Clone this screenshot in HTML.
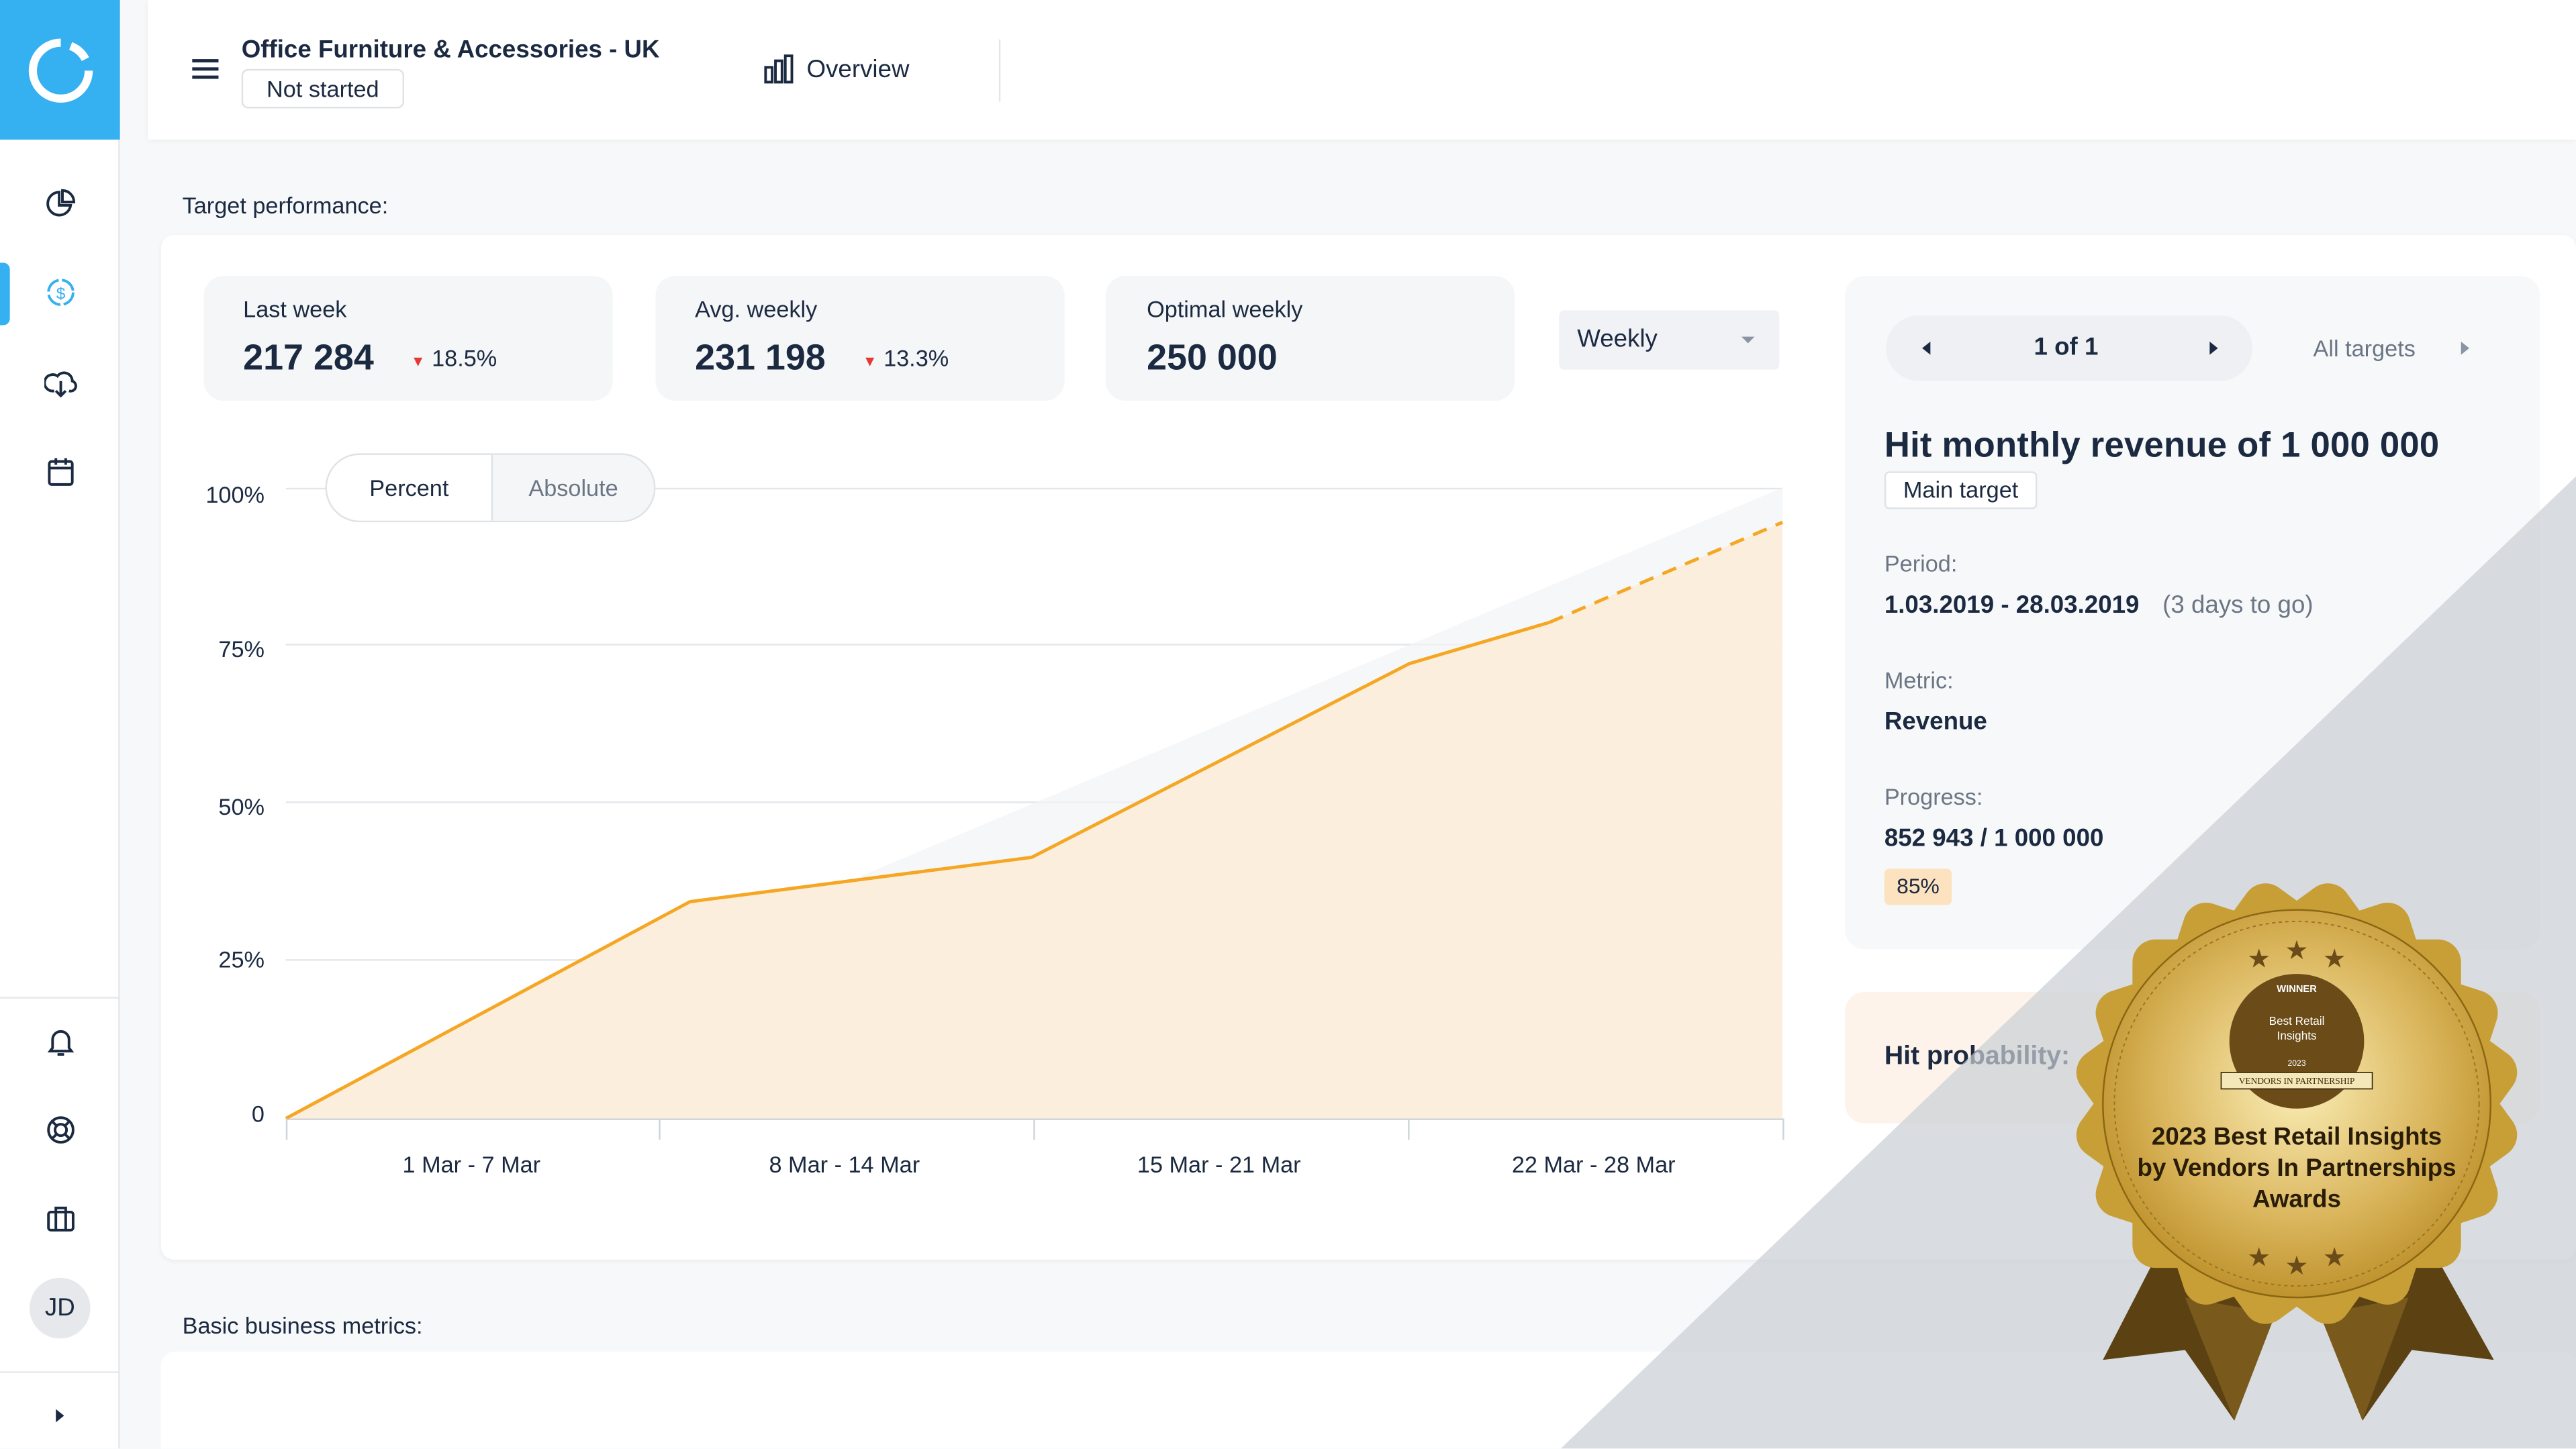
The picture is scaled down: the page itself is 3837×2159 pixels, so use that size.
<!DOCTYPE html>
<html><head><meta charset="utf-8"><style>
*{margin:0;padding:0;box-sizing:border-box}
html,body{width:3837px;height:2159px;overflow:hidden;background:#f7f8fa}
#s{position:absolute;left:0;top:0;width:1568px;height:882px;overflow:hidden;transform:scale(2.4471);transform-origin:0 0;font-family:"Liberation Sans",sans-serif;color:#1b2a41;background:#f7f8fa}
.a{position:absolute}
.card{position:absolute;background:#f5f6f8;border-radius:12px}
.lbl{font-size:14px;color:#1b2a41}
.big{font-size:22px;font-weight:bold}
.pct{font-size:14px}
.gl{position:absolute;left:174px;width:911px;height:1px;background:#e3e6ea}
.yl{position:absolute;width:40px;text-align:right;left:121px;font-size:14px}
.xl{position:absolute;font-size:14px;width:160px;text-align:center;top:701px}
.tk{position:absolute;top:681px;width:1px;height:13px;background:#cfd4da}
.ic{position:absolute;left:27px;width:20px;height:20px}
</style></head><body><div id="s">
<div class="a" style="left:0;top:0;width:73px;height:882px;background:#fff;border-right:1px solid #e6e8eb"></div>
<div class="a" style="left:0;top:0;width:73px;height:85px;background:#35b0f0"></div>
<svg class="a" style="left:16px;top:22px" width="42" height="42" viewBox="0 0 42 42"><path d="M21 4 A17 17 0 1 0 38 21" fill="none" stroke="#fff" stroke-width="5"/><path d="M27 6 A17 17 0 0 1 36 14" fill="none" stroke="#fff" stroke-width="5"/></svg>
<div class="a" style="left:0;top:160px;width:6px;height:38px;background:#35b0f0;border-radius:0 4px 4px 0"></div>
<svg class="ic" style="top:114px" viewBox="0 0 20 20"><path d="M9 3a7 7 0 1 0 7 8H9z" fill="none" stroke="#1b2a41" stroke-width="1.6"/><path d="M11 2v7h7a7 7 0 0 0-7-7z" fill="none" stroke="#1b2a41" stroke-width="1.6"/></svg>
<svg class="ic" style="top:168px" viewBox="0 0 20 20"><circle cx="10" cy="10" r="7.5" fill="none" stroke="#35b0f0" stroke-width="1.6" stroke-dasharray="10 2"/><text x="10" y="14" font-size="10" text-anchor="middle" fill="#35b0f0" font-family="Liberation Sans">$</text></svg>
<svg class="ic" style="top:223px" viewBox="0 0 20 20"><path d="M6 15a5 5 0 1 1 2-9 5 5 0 0 1 9 3 3 3 0 0 1-2 6" fill="none" stroke="#1b2a41" stroke-width="1.6"/><path d="M10 9v9M7 15l3 3 3-3" fill="none" stroke="#1b2a41" stroke-width="1.6"/></svg>
<svg class="ic" style="top:277px" viewBox="0 0 20 20"><rect x="3" y="4" width="14" height="14" rx="1.5" fill="none" stroke="#1b2a41" stroke-width="1.6"/><path d="M3 8h14M7 2v4M13 2v4" stroke="#1b2a41" stroke-width="1.6"/></svg>
<div class="a" style="left:0;top:607px;width:73px;height:1px;background:#e6e8eb"></div>
<svg class="ic" style="top:624px" viewBox="0 0 20 20"><path d="M5 14V9a5 5 0 0 1 10 0v5l1.5 2h-13zM8 18h4" fill="none" stroke="#1b2a41" stroke-width="1.6"/></svg>
<svg class="ic" style="top:678px" viewBox="0 0 20 20"><circle cx="10" cy="10" r="7.5" fill="none" stroke="#1b2a41" stroke-width="1.6"/><circle cx="10" cy="10" r="3.5" fill="none" stroke="#1b2a41" stroke-width="1.6"/><path d="M5 5l3 3M15 5l-3 3M5 15l3-3M15 15l-3-3" stroke="#1b2a41" stroke-width="1.6"/></svg>
<svg class="ic" style="top:732px" viewBox="0 0 20 20"><rect x="2.5" y="6" width="15" height="11" rx="1.5" fill="none" stroke="#1b2a41" stroke-width="1.6"/><path d="M7 6V3.5h6V6M7 6v11M13 6v11" fill="none" stroke="#1b2a41" stroke-width="1.6"/></svg>
<div class="a" style="left:18px;top:778px;width:37px;height:37px;border-radius:50%;background:#e6e8eb;font-size:15px;text-align:center;line-height:37px">JD</div>
<div class="a" style="left:0;top:835px;width:73px;height:1px;background:#e6e8eb"></div>
<div class="a" style="left:34px;top:858px;width:0;height:0;border-top:4px solid transparent;border-bottom:4px solid transparent;border-left:5px solid #1b2a41"></div>
<div class="a" style="left:90px;top:0;width:1478px;height:85px;background:#fff;box-shadow:0 1px 3px rgba(0,0,0,.05)"></div>
<div class="a" style="left:117px;top:36px;width:16px;height:2px;background:#1b2a41;box-shadow:0 5px 0 #1b2a41,0 10px 0 #1b2a41"></div>
<div class="a" style="left:147px;top:22px;font-size:15px;font-weight:bold">Office Furniture &amp; Accessories - UK</div>
<div class="a" style="left:147px;top:42px;width:99px;height:24px;border:1px solid #dfe2e6;border-radius:4px;font-size:14px;text-align:center;line-height:22px">Not started</div>
<svg class="a" style="left:465px;top:33px" width="20" height="18" viewBox="0 0 20 18"><path d="M1 8h4v9H1zM7 4h4v13H7zM13 1h4v16h-4z" fill="none" stroke="#1b2a41" stroke-width="1.6"/></svg>
<div class="a" style="left:491px;top:34px;font-size:15px">Overview</div>
<div class="a" style="left:608px;top:24px;width:1px;height:38px;background:#e3e6ea"></div>
<div class="a lbl" style="left:111px;top:117px">Target performance:</div>
<div class="a" style="left:98px;top:143px;width:1470px;height:624px;background:#fff;border-radius:8px;box-shadow:0 1px 3px rgba(0,0,0,.05)"></div>
<div class="card" style="left:124px;top:168px;width:249px;height:76px"></div>
<div class="a lbl" style="left:148px;top:180px">Last week</div>
<div class="a big" style="left:148px;top:205px">217 284</div>
<div class="a pct" style="left:250px;top:210px"><span style="color:#e53935;font-size:9px">▼</span> 18.5%</div>
<div class="card" style="left:399px;top:168px;width:249px;height:76px"></div>
<div class="a lbl" style="left:423px;top:180px">Avg. weekly</div>
<div class="a big" style="left:423px;top:205px">231 198</div>
<div class="a pct" style="left:525px;top:210px"><span style="color:#e53935;font-size:9px">▼</span> 13.3%</div>
<div class="card" style="left:673px;top:168px;width:249px;height:76px"></div>
<div class="a lbl" style="left:698px;top:180px">Optimal weekly</div>
<div class="a big" style="left:698px;top:205px">250 000</div>
<div class="a" style="left:949px;top:189px;width:134px;height:36px;background:#f0f2f5;border-radius:3px;font-size:15px;line-height:36px;padding-left:11px">Weekly</div>
<div class="a" style="left:1060px;top:205px;border-left:4px solid transparent;border-right:4px solid transparent;border-top:4px solid #8a94a3"></div>
<div class="gl" style="top:297px"></div><div class="gl" style="top:392px"></div><div class="gl" style="top:488px"></div><div class="gl" style="top:584px"></div><div class="gl" style="top:681px;background:#cfd4da"></div>
<div class="yl" style="top:293px">100%</div><div class="yl" style="top:387px">75%</div><div class="yl" style="top:483px">50%</div><div class="yl" style="top:576px">25%</div><div class="yl" style="top:670px">0</div>
<svg class="a" style="left:0;top:0" width="1568" height="882">
<polygon points="174,681 1085,297 1085,681" fill="#f2f3f5" opacity=".7"/>
<polygon points="174,681 420,549 628,522 858,404 943,379 1085,318 1085,681" fill="#fbeedd"/>
<polyline points="174,681 420,549 628,522 858,404 943,379" fill="none" stroke="#f5a623" stroke-width="2"/>
<line x1="943" y1="379" x2="1085" y2="318" stroke="#f5a623" stroke-width="2" stroke-dasharray="9 6"/>
</svg>
<div class="tk" style="left:174px"></div><div class="tk" style="left:401px"></div><div class="tk" style="left:629px"></div><div class="tk" style="left:857px"></div><div class="tk" style="left:1085px"></div>
<div class="xl" style="left:207px">1 Mar - 7 Mar</div><div class="xl" style="left:434px">8 Mar - 14 Mar</div><div class="xl" style="left:662px">15 Mar - 21 Mar</div><div class="xl" style="left:890px">22 Mar - 28 Mar</div>
<div class="a" style="left:198px;top:276px;width:201px;height:42px;border:1px solid #dfe2e6;border-radius:21px;background:#fff;overflow:hidden">
<div class="a" style="left:100px;top:0;width:100px;height:40px;background:#f5f6f8;border-left:1px solid #dfe2e6"></div>
<div class="a" style="left:0;top:12px;width:100px;text-align:center;font-size:14px">Percent</div>
<div class="a" style="left:100px;top:12px;width:100px;text-align:center;font-size:14px;color:#6b7685">Absolute</div></div>
<div class="card" style="left:1123px;top:168px;width:423px;height:410px;background:#f7f8fa"></div>
<div class="a" style="left:1148px;top:192px;width:223px;height:40px;border-radius:20px;background:#eef0f3"></div>
<div class="a" style="left:1170px;top:208px;border-top:4px solid transparent;border-bottom:4px solid transparent;border-right:5px solid #1b2a41"></div>
<div class="a" style="left:1238px;top:203px;font-size:15px;font-weight:bold">1 of 1</div>
<div class="a" style="left:1345px;top:208px;border-top:4px solid transparent;border-bottom:4px solid transparent;border-left:5px solid #1b2a41"></div>
<div class="a" style="left:1408px;top:204px;font-size:14px;color:#6b7685">All targets</div>
<div class="a" style="left:1498px;top:208px;border-top:4px solid transparent;border-bottom:4px solid transparent;border-left:5px solid #8a94a3"></div>
<div class="a" style="left:1147px;top:259px;font-size:21.5px;font-weight:bold;letter-spacing:.1px">Hit monthly revenue of 1 000 000</div>
<div class="a" style="left:1147px;top:287px;width:93px;height:23px;border:1px solid #dfe2e6;border-radius:3px;background:#fff;font-size:14px;text-align:center;line-height:21px">Main target</div>
<div class="a" style="left:1147px;top:335px;font-size:14px;color:#6b7685">Period:</div>
<div class="a" style="left:1147px;top:360px;font-size:15px;font-weight:bold">1.03.2019 - 28.03.2019 <span style="font-weight:normal;color:#6b7685;margin-left:10px">(3 days to go)</span></div>
<div class="a" style="left:1147px;top:406px;font-size:14px;color:#6b7685">Metric:</div>
<div class="a" style="left:1147px;top:431px;font-size:15px;font-weight:bold">Revenue</div>
<div class="a" style="left:1147px;top:477px;font-size:14px;color:#6b7685">Progress:</div>
<div class="a" style="left:1147px;top:502px;font-size:15px;font-weight:bold">852 943 / 1 000 000</div>
<div class="a" style="left:1147px;top:529px;width:41px;height:22px;background:#fde2bf;border-radius:3px;font-size:13px;text-align:center;line-height:22px">85%</div>
<div class="card" style="left:1123px;top:604px;width:423px;height:80px;background:#fdf3ea"></div>
<div class="a" style="left:1147px;top:635px;font-size:16px;font-weight:bold">Hit probability:</div>
<div class="a lbl" style="left:111px;top:799px">Basic business metrics:</div>
<div class="a" style="left:98px;top:823px;width:1470px;height:80px;background:#fff;border-radius:8px"></div>
<svg class="a" style="left:0;top:0" width="1568" height="882">
<polygon points="950,882 1568,290 1568,882" fill="#c9ced4" opacity=".7"/>
<defs><radialGradient id="g" cx="50%" cy="45%" r="60%"><stop offset="0" stop-color="#fbefb8"/><stop offset=".6" stop-color="#d9b45a"/><stop offset="1" stop-color="#b88a22"/></radialGradient></defs>
<polygon points="1315,760 1280,828 1330,822 1360,865 1385,800" fill="#5c4213"/>
<polygon points="1480,760 1518,828 1468,822 1438,865 1412,800" fill="#5c4213"/>
<polygon points="1330,790 1360,865 1385,800" fill="#7a5a1c"/>
<polygon points="1466,790 1438,865 1412,800" fill="#7a5a1c"/>
<g transform="translate(1398,672)" fill="#c89f36">
<rect x="-100" y="-100" width="200" height="200" rx="14"/>
<rect x="-100" y="-100" width="200" height="200" rx="14" transform="rotate(18)"/>
<rect x="-100" y="-100" width="200" height="200" rx="14" transform="rotate(36)"/>
<rect x="-100" y="-100" width="200" height="200" rx="14" transform="rotate(54)"/>
<rect x="-100" y="-100" width="200" height="200" rx="14" transform="rotate(72)"/>
<circle r="118" fill="url(#g)" stroke="#8a6514" stroke-width="1"/>
<circle r="111" fill="none" stroke="#9b7420" stroke-width=".8" stroke-dasharray="2 2"/>
<circle cy="-38" r="41" fill="#6b4c18"/>
<text y="-68" font-size="6" fill="#fff" text-anchor="middle" font-weight="bold" font-family="Liberation Sans">WINNER</text>
<text y="-48" font-size="7" fill="#fff" text-anchor="middle" font-family="Liberation Sans">Best Retail</text>
<text y="-39" font-size="7" fill="#fff" text-anchor="middle" font-family="Liberation Sans">Insights</text>
<text y="-23" font-size="5" fill="#fff" text-anchor="middle" font-family="Liberation Sans">2023</text>
<rect x="-46" y="-19" width="92" height="10" fill="#f4e7b8" stroke="#3a2a0a" stroke-width=".7"/>
<text y="-12" font-size="5.5" fill="#3a2a0a" text-anchor="middle" font-family="Liberation Serif">VENDORS IN PARTNERSHIP</text>
<text y="25" font-size="15" font-weight="bold" fill="#2a1d08" text-anchor="middle" font-family="Liberation Sans">2023 Best Retail Insights</text>
<text y="44" font-size="15" font-weight="bold" fill="#2a1d08" text-anchor="middle" font-family="Liberation Sans">by Vendors In Partnerships</text>
<text y="63" font-size="15" font-weight="bold" fill="#2a1d08" text-anchor="middle" font-family="Liberation Sans">Awards</text>
<text x="-23" y="-83" font-size="16" fill="#6b4c18" text-anchor="middle">★</text><text y="-88" font-size="16" fill="#6b4c18" text-anchor="middle">★</text><text x="23" y="-83" font-size="16" fill="#6b4c18" text-anchor="middle">★</text>
<text x="-23" y="99" font-size="16" fill="#6b4c18" text-anchor="middle">★</text><text y="104" font-size="16" fill="#6b4c18" text-anchor="middle">★</text><text x="23" y="99" font-size="16" fill="#6b4c18" text-anchor="middle">★</text>
</g>
</svg>
</div></body></html>
